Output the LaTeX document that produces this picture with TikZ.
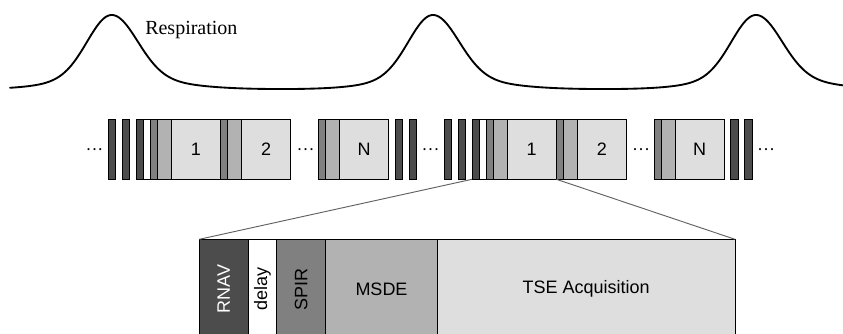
\documentclass[tikz,border=0pt]{standalone}
\usepackage{fontspec}
\setmainfont{Liberation Serif}
\setsansfont{Liberation Sans}
\definecolor{cdark}{gray}{0.30}
\definecolor{cspir}{gray}{0.50}
\definecolor{cmsde}{gray}{0.70}
\definecolor{ctse}{gray}{0.87}
\definecolor{czoom}{gray}{0.38}
\newcommand\blk[7]{\node[blkbase,#1,minimum width={(#5)*0.75pt},minimum height={(#6)*0.75pt}] (#2) at (#3,#4) {#7};}
\begin{document}
\begin{tikzpicture}[x=0.75pt,y=-0.75pt,
  blkbase/.style={draw=black,line width=0.55pt,inner sep=0pt,outer sep=0pt,anchor=north west,
    font=\sffamily\fontsize{13.5}{16}\selectfont},
  darkblk/.style={fill=cdark},
  whiteblk/.style={fill=white},
  spirblk/.style={fill=cspir},
  msdeblk/.style={fill=cmsde},
  tseblk/.style={fill=ctse},
  dotstxt/.style={font=\sffamily\fontsize{13.5}{16}\selectfont,inner sep=0pt,anchor=base},
  resp/.style={line width=1.4pt,line join=round,line cap=round},
  zoomline/.style={draw=czoom,line width=0.7pt},
  declare function={
    pk(\d)=(\d<0)*(62*exp(-min((\d/34)*(\d/34),9))+12.3*exp(-min((\d/70)*(\d/70),9)))
          +(\d>=0)*(62*exp(-min((\d/36)*(\d/36),9))+12.3*exp(-min((\d/80)*(\d/80),9)));
  }]
\useasboundingbox (0,0) rectangle (843,333);
\clip (0,0) rectangle (843,333);

% respiration curve
\draw[resp] plot[domain=10:843,samples=420] (\x,{89.3-pk(\x-111.7)-pk(\x-433)-pk(\x-756)});
\node[font=\fontsize{15}{18}\selectfont,inner sep=0pt,anchor=base west] (resplabel) at (145,34.3) {Respiration};

% leading dots
\node[dotstxt] (dots0) at (94.5,154) {···};

% two repeated acquisition groups
\foreach \o/\g in {0/a,335.7/b}{
  \blk{darkblk}{bar1\g}{\o+108.3}{119.3}{7.3}{60}{}
  \blk{darkblk}{bar2\g}{\o+122.3}{119.3}{7.3}{60}{}
  \blk{darkblk}{rnav\g}{\o+136.3}{119.3}{7.4}{60}{}
  \blk{whiteblk}{delay\g}{\o+143.7}{119.3}{6.6}{60}{}
  \blk{spirblk}{spira\g}{\o+150.3}{119.3}{7}{60}{}
  \blk{msdeblk}{msdea\g}{\o+157.3}{119.3}{14}{60}{}
  \blk{tseblk}{acqa\g}{\o+171.3}{119.3}{49.4}{60}{1}
  \blk{spirblk}{spirb\g}{\o+220.7}{119.3}{7}{60}{}
  \blk{msdeblk}{msdeb\g}{\o+227.7}{119.3}{14}{60}{}
  \blk{tseblk}{acqb\g}{\o+241.7}{119.3}{49}{60}{2}
  \node[dotstxt] (dotsm\g) at (\o+305.5,154) {···};
  \blk{spirblk}{spirn\g}{\o+318.3}{119.3}{7}{60}{}
  \blk{msdeblk}{msden\g}{\o+325.3}{119.3}{14}{60}{}
  \blk{tseblk}{acqn\g}{\o+339.3}{119.3}{49.4}{60}{N}
  \blk{darkblk}{bar3\g}{\o+395}{119.3}{7.3}{60}{}
  \blk{darkblk}{bar4\g}{\o+409}{119.3}{7.3}{60}{}
  \node[dotstxt] (dotse\g) at (\o+430.5,154) {···};
}

% expanded segment
\blk{darkblk}{bigrnav}{199.3}{239.3}{49}{100}{\textcolor{white}{\rotatebox{90}{RNAV}}}
\blk{whiteblk}{bigdelay}{248.3}{239.3}{28.4}{100}{\rotatebox{90}{delay}}
\blk{spirblk}{bigspir}{276.7}{239.3}{49}{100}{\rotatebox{90}{SPIR}}
\blk{msdeblk}{bigmsde}{325.7}{239.3}{111.6}{100}{MSDE}
\blk{tseblk}{bigtse}{437.3}{239.3}{297.7}{100}{TSE Acquisition}

% zoom lines
\draw[zoomline] (rnavb.south west) -- (bigrnav.north west);
\draw[zoomline] (acqab.south east) -- (bigtse.north east);
\end{tikzpicture}
\end{document}
